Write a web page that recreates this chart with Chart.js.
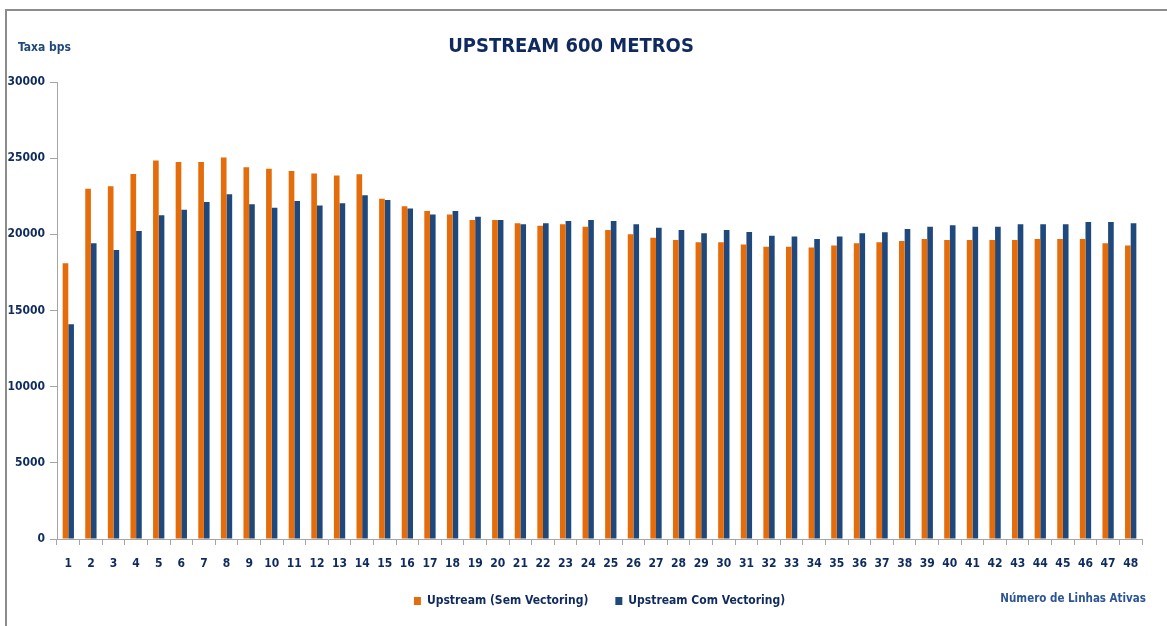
<!DOCTYPE html>
<html>
<head>
<meta charset="utf-8">
<title>Upstream 600 metros</title>
<script src="https://cdn.jsdelivr.net/npm/chart.js@4.4.1/dist/chart.umd.min.js"></script>
<style>
	body { margin: 0; background: #fff; }
	#wrap { position: relative; width: 1167px; height: 626px; overflow: hidden; }
	#frame { position: absolute; left: 5px; top: 9px; width: 1200px; height: 700px; border-left: 2px solid #8c8c8c; border-top: 2px solid #8c8c8c; }
	#grafico { position: absolute; left: 0; top: 0; }
	.rotulo { position: absolute; font-family: 'Liberation Sans Narrow', 'DejaVu Sans Condensed', sans-serif; font-weight: bold; white-space: nowrap; line-height: 16px; }
	#taxa { left: 18px; top: 39px; font-size: 12px; color: #1f497d; }
	#linhas { right: 21px; top: 590px; font-size: 11.5px; color: #2c5596; }
</style>
</head>
<body>
<div id="wrap">
	<div id="frame"></div>
	<canvas id="grafico" width="1167" height="626"></canvas>
	<div class="rotulo" id="taxa">Taxa bps</div>
	<div class="rotulo" id="linhas">Número de Linhas Ativas</div>
</div>
<script>
var linhas = ["1","2","3","4","5","6","7","8","9","10","11","12","13","14","15","16","17","18","19","20","21","22","23","24",
	"25","26","27","28","29","30","31","32","33","34","35","36","37","38","39","40","41","42","43","44","45","46","47","48"];

var semVectoring = [18100, 23000, 23150, 23960, 24840, 24750, 24750, 25050, 24400, 24310,
	24160, 24000, 23870, 23940, 22340, 21840, 21530, 21310, 20940, 20940,
	20720, 20570, 20660, 20500, 20280, 20000, 19780, 19630, 19480, 19480,
	19340, 19190, 19190, 19130, 19260, 19410, 19480, 19560, 19690, 19630,
	19630, 19630, 19630, 19690, 19690, 19690, 19410, 19260];

var comVectoring = [14090, 19410, 18970, 20220, 21250, 21620, 22120, 22630, 21970, 21750,
	22190, 21900, 22040, 22560, 22250, 21690, 21310, 21530, 21160, 20940,
	20660, 20720, 20880, 20940, 20880, 20660, 20440, 20280, 20070, 20280,
	20150, 19910, 19850, 19690, 19850, 20070, 20130, 20350, 20500, 20590,
	20500, 20500, 20660, 20660, 20660, 20810, 20810, 20720];

var yTicks = [0, 5000, 10000, 15000, 20000, 25000, 30000];

var fonte = "'Liberation Sans Narrow', 'DejaVu Sans Condensed', sans-serif";
var azulEscuro = "#0f2a5e";
var cinza = "#a6a6a6";

var chartdata = {
	labels: linhas,
	datasets: [
		{
			label: "Upstream (Sem Vectoring)",
			backgroundColor: "#e46c0a",
			data: semVectoring
		},
		{
			label: "Upstream Com Vectoring)",
			backgroundColor: "#1f497d",
			data: comVectoring
		}
	]
};

var ctx = document.getElementById("grafico");

var grafico = new Chart(ctx, {
	type: 'bar',
	data: chartdata,
	options: {
		responsive: false,
		animation: false,
		layout: { padding: { left: 0, right: 25, top: 0, bottom: 9 } },
		datasets: { bar: { categoryPercentage: 0.5, barPercentage: 1 } },
		plugins: {
			tooltip: { enabled: false },
			title: {
				display: true,
				text: "UPSTREAM 600 METROS",
				color: azulEscuro,
				font: { family: fonte, size: 20, weight: 'bold' },
				padding: { top: 35, bottom: 23 }
			},
			legend: {
				position: 'bottom',
				fullSize: false,
				labels: {
					boxWidth: 7,
					boxHeight: 8,
					padding: 27,
					color: azulEscuro,
					font: { family: fonte, size: 12, weight: 'bold' }
				}
			}
		},
		scales: {
			y: {
				min: 0,
				max: 30000,
				afterBuildTicks: function(scale) {
					scale.ticks = yTicks.map(function(v) { return { value: v }; });
				},
				afterFit: function(scale) { scale.width = 57; },
				grid: { drawOnChartArea: false, tickLength: 7, color: cinza },
				border: { color: cinza },
				ticks: {
					padding: 5,
					color: azulEscuro,
					font: { family: fonte, size: 12, weight: 'bold' },
					callback: function(v) { return String(v); }
				}
			},
			x: {
				afterFit: function(scale) { scale.height = 29; },
				grid: { drawOnChartArea: false, offset: true, tickLength: 6, color: cinza },
				border: { color: cinza },
				ticks: {
					padding: 12,
					maxRotation: 0,
					autoSkip: false,
					color: azulEscuro,
					font: { family: fonte, size: 12, weight: 'bold' }
				}
			}
		}
	}
});
</script>
</body>
</html>
